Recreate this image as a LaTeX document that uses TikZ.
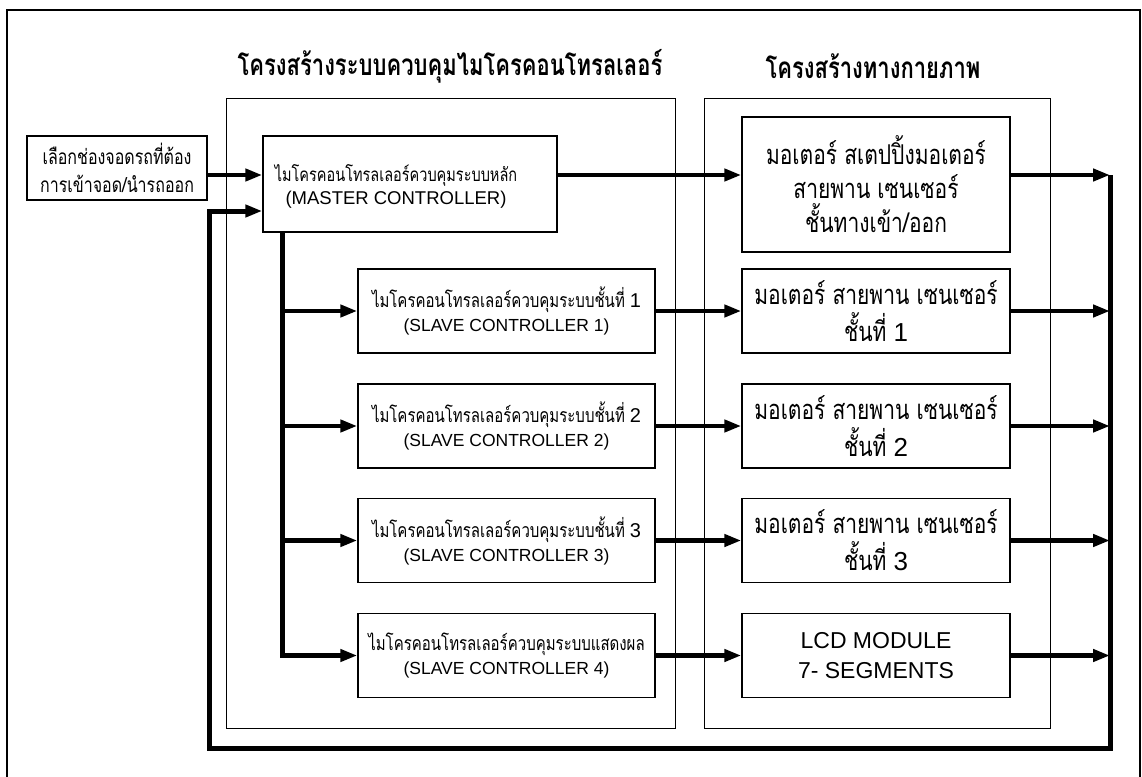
\documentclass[tikz,border=0pt]{standalone}
\usepackage{graphicx}
\usepackage{fontspec}
\setmainfont{Liberation Sans}
\newfontfamily\thai[Script=Thai]{Loma}
\newcommand{\thtxt}[1]{\scalebox{1}[1.3]{\thai #1}}
\usetikzlibrary{arrows.meta}
\begin{document}
\begin{tikzpicture}[x=1pt,y=-1pt,
  box/.style={draw, line width=1.4pt, align=center, inner sep=0pt},
  cont/.style={draw, line width=0.9pt, inner sep=0pt},
  flow/.style={line width=4.5pt, -{Triangle[length=17pt,width=12pt]}},
  fbline/.style={line width=5pt},
  ttl/.style={font=\fontsize{22}{26}\selectfont, inner sep=0pt},
  slv/.style={box, minimum width=297pt, minimum height=84pt, font=\fontsize{15}{24}\selectfont},
  rgt/.style={box, minimum width=268pt, minimum height=84pt, font=\fontsize{21}{37}\selectfont},
]
\useasboundingbox (0,0) rectangle (1142,776);
\fill[white] (0,0) rectangle (1142,776);
% outer frame
\draw[line width=1.4pt] (7,800) -- (7,10) -- (1140,10) -- (1140,800);

% containers
\node[cont, minimum width=449pt, minimum height=630pt] (lc) at (450.5,413) {};
\node[cont, minimum width=346pt, minimum height=630pt] (rc) at (877,413) {};
\node[ttl] (t1) at (450,66) {\scalebox{1}[1.35]{\thai\bfseries โครงสร้างระบบควบคุมไมโครคอนโทรลเลอร์}};
\node[ttl] (t2) at (873,66) {\scalebox{1}[1.35]{\thai\bfseries โครงสร้างทางกายภาพ}};

% input
\node[box, minimum width=180pt, minimum height=64pt, font=\fontsize{16}{28}\selectfont] (inp) at (117,168) {\thtxt{เลือกช่องจอดรถที่ต้อง}\\\thtxt{การเข้าจอด/นำรถออก}};

% master
\node[box, minimum width=294pt, minimum height=96pt] (ms) at (410,184) {};
\node[align=center, inner sep=0pt, font=\fontsize{14.5}{23}\selectfont] (mst) at (396,186)
  {\thtxt{ไมโครคอนโทรลเลอร์ควบคุมระบบหลัก}\\{\fontsize{18.5}{23}\selectfont (MASTER CONTROLLER)}};

% slaves
\foreach \i/\y in {1/311,2/426,3/540.5} {
  \node[slv] (s\i) at (506.5,\y)
    {\thtxt{ไมโครคอนโทรลเลอร์ควบคุมระบบชั้นที่ }{\fontsize{20}{24}\selectfont \i}\\{\fontsize{17.5}{24}\selectfont (SLAVE CONTROLLER \i)}};
}
\node[slv] (s4) at (506.5,655.5)
    {\thtxt{ไมโครคอนโทรลเลอร์ควบคุมระบบแสดงผล}\\{\fontsize{17.5}{24}\selectfont (SLAVE CONTROLLER 4)}};

% right boxes
\node[box, minimum width=268pt, minimum height=135pt, font=\fontsize{21}{34}\selectfont] (r0) at (876,184.5)
  {\thtxt{มอเตอร์ สเตปปิ้งมอเตอร์}\\\thtxt{สายพาน เซนเซอร์}\\\thtxt{ชั้นทางเข้า/ออก}};
\foreach \i/\y in {1/311,2/426,3/540.5} {
  \node[rgt] (r\i) at (876,\y)
    {\thtxt{มอเตอร์ สายพาน เซนเซอร์}\\\thtxt{ชั้นที่ }{\fontsize{26}{37}\selectfont \i}};
}
\node[box, minimum width=268pt, minimum height=84pt, font=\fontsize{23}{30}\selectfont] (r4) at (876,655.5)
  {LCD MODULE\\7- SEGMENTS};

% helper coordinates
\coordinate (min) at ([yshift=9pt]ms.west);
\coordinate (mout) at ([yshift=9pt]ms.east);
\coordinate (mfb) at ([yshift=-27pt]ms.west);
\coordinate (trunk) at ([xshift=20pt]ms.south west);
\coordinate (fbx) at (1110,0);
\coordinate (fbbot) at (1110,748);
\coordinate (fbleft) at (209,748);

% input -> master
\draw[flow] (inp.east |- min) -- (min);
% master -> r0
\draw[flow] (mout) -- (mout -| r0.west);
% trunk
\draw[line width=4.5pt] ([yshift=0.7pt]trunk) -- (trunk |- s4.west);
\foreach \i in {1,2,3,4} {
  \draw[flow] ([xshift=-2.25pt]trunk |- s\i.west) -- (s\i.west);
  \draw[flow] (s\i.east) -- (r\i.west);
  \draw[flow] (r\i.east) -- (r\i.east -| fbx);
}
\draw[flow] (mout -| r0.east) -- (mout -| fbx);
% feedback loop
\draw[fbline, -{Triangle[length=17pt,width=12pt]}] (mout -| fbx) -- (fbbot) -- (fbleft) -- (fbleft |- mfb) -- (mfb);
\end{tikzpicture}
\end{document}
